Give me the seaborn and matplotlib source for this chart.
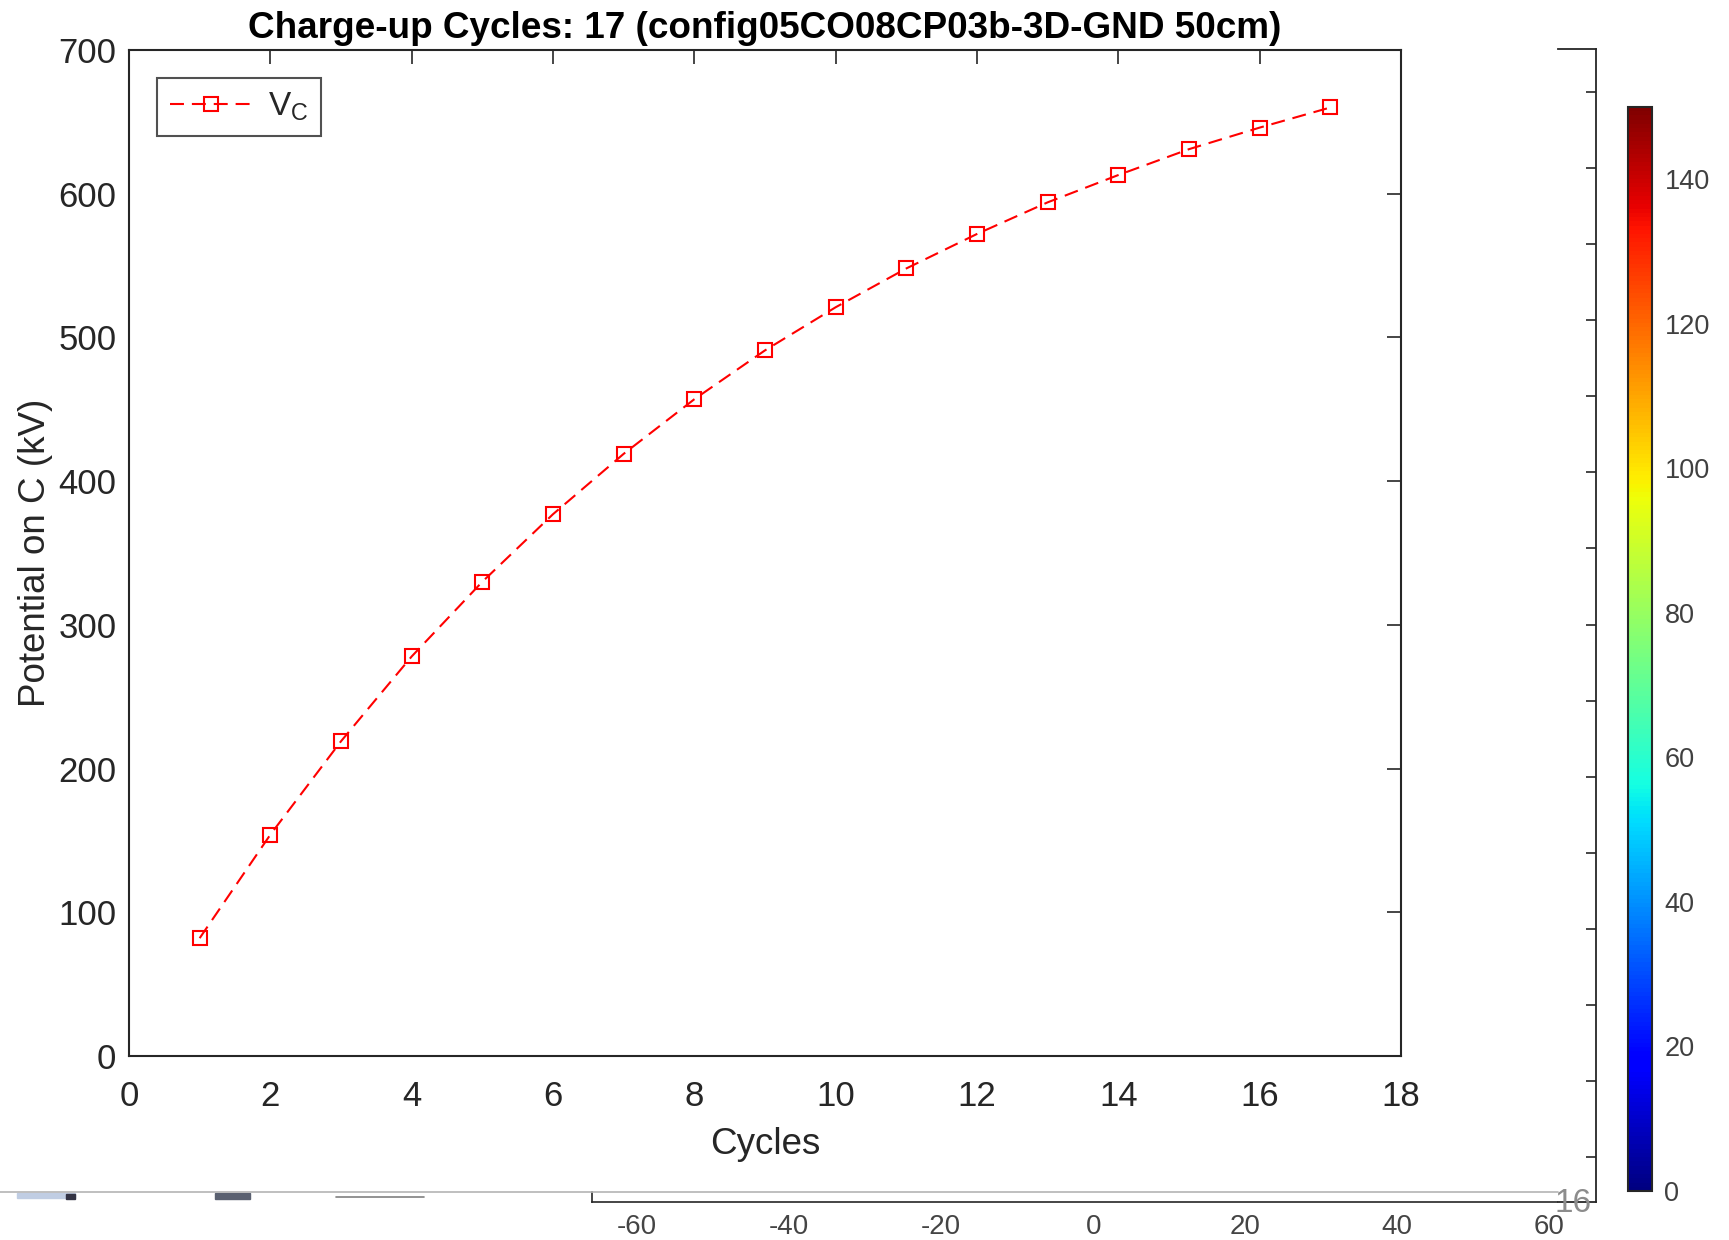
import matplotlib
matplotlib.use("Agg")
import matplotlib as mpl
import matplotlib.pyplot as plt
import seaborn as sns
from matplotlib.lines import Line2D
from matplotlib.patches import Rectangle

# Data
cycles = list(range(1, 18))
vc = [82, 154, 219, 278, 330, 377, 419, 457, 491, 521, 548, 572, 594, 613, 631, 646, 660]
x_ticks = list(range(0, 19, 2))
y_ticks = list(range(0, 701, 100))

# colorbar of a figure lying behind
cbar_range = (0, 150)
cbar_ticks = list(range(0, 141, 20))

# axes of other windows peeking in
bottom_ticks = [-60, -40, -20, 0, 20, 40, 60]
bottom_range = (-66, 61.0)
side_ticks = list(range(15))
side_range = (-0.59, 14.565)

title = "Charge-up Cycles: 17 (config05CO08CP03b-3D-GND 50cm)"

sns.set_theme(style="white")
plt.rcParams['font.family'] = ['Liberation Sans', 'DejaVu Sans']
plt.rcParams['axes.unicode_minus'] = False
dark = '#262626'

W, H = 1729, 1240
fig = plt.figure(figsize=(W / 100, H / 100), dpi=100)
fig.patch.set_facecolor('white')


def box(x0, y0, x1, y1):
    # pixel box (top-left origin) -> figure fraction
    return [x0 / W, 1 - y1 / H, (x1 - x0) / W, (y1 - y0) / H]


# Main plot
ax = fig.add_axes(box(129, 50, 1401, 1056))
sns.lineplot(x=cycles, y=vc, ax=ax, color='red', lw=1.5,
             linestyle=(0, (6.7, 3.8)), marker='s', markersize=10,
             markerfacecolor='none', markeredgecolor='red',
             markeredgewidth=1.5, label=r'$\mathregular{V_C}$')
ax.set_xlim(0, 18)
ax.set_ylim(0, 700)
ax.set_xticks(x_ticks)
ax.set_yticks(y_ticks)
ax.tick_params(direction='in', top=True, right=True, length=10, width=1.2,
               labelsize=25, colors=dark)
ax.tick_params(axis='x', pad=17)
ax.tick_params(axis='y', pad=9)
for s in ax.spines.values():
    s.set_color(dark)
    s.set_linewidth(1.5)
ax.set_xlabel('Cycles', fontsize=26.5, color=dark, labelpad=10)
ax.set_ylabel('Potential on C (kV)', fontsize=26.5, color=dark, labelpad=4)
ax.set_title(title, fontsize=26.6, fontweight='bold', color='black', pad=9)

leg = ax.legend(loc='upper left', bbox_to_anchor=(28 / 1272, 1 - 28 / 1006),
                borderaxespad=0, fontsize=24, frameon=True, fancybox=False,
                handlelength=2.5, borderpad=0.38, handletextpad=0.45)
leg.get_frame().set_edgecolor(dark)
leg.get_frame().set_linewidth(1.5)

# Colorbar (jet, 0-150)
cax = fig.add_axes(box(1628, 107, 1652, 1191))
sm = mpl.cm.ScalarMappable(norm=mpl.colors.Normalize(*cbar_range), cmap='jet')
cb = fig.colorbar(sm, cax=cax, ticks=cbar_ticks)
cb.outline.set_edgecolor(dark)
cb.outline.set_linewidth(1.5)
cax.tick_params(direction='in', left=True, right=True, length=4, width=1.2,
                labelsize=19.5, labelcolor='#404040', color='black', pad=9)

# Side box of another figure
sax = fig.add_axes(box(1558, 49, 1596, 1202))
sax.set_facecolor('none')
sax.set_ylim(*side_range)
sax.set_yticks(side_ticks)
sax.set_xticks([])
sax.yaxis.tick_right()
sax.tick_params(axis='y', direction='in', length=7, width=1.2, color=dark,
                labelright=False)
sax.spines['left'].set_visible(False)
for k in ['top', 'right', 'bottom']:
    sax.spines[k].set_color(dark)
    sax.spines[k].set_linewidth(1.3)

# Bottom axis of another window
bax = fig.add_axes(box(591.5, 1192, 1557, 1202))
bax.set_facecolor('none')
bax.set_xlim(*bottom_range)
bax.set_xticks(bottom_ticks)
bax.set_yticks([])
bax.tick_params(axis='x', direction='in', length=7, width=1.0, color=dark,
                labelsize=20, labelcolor='#444444', pad=9)
for k in ['top', 'right']:
    bax.spines[k].set_visible(False)
for k in ['bottom', 'left']:
    bax.spines[k].set_color(dark)
    bax.spines[k].set_linewidth(1.2)

# window edges / fragments
fig.add_artist(Line2D([0, 1558 / W], [1 - 1192 / H] * 2, color='#b4b4b4', lw=1.2,
                      transform=fig.transFigure))
fig.text(1573 / W, 1 - 1204 / H, '16', color='#8c8c8c', fontsize=24,
         ha='center', va='center', zorder=5)
for (x0, y0, x1, y1, c) in [(17, 1193, 75, 1198, '#c0cde3'),
                            (66, 1194, 75, 1199, '#333344'),
                            (215, 1193, 250, 1199, '#5a6070')]:
    fig.add_artist(Rectangle((x0 / W, 1 - y1 / H), (x1 - x0) / W, (y1 - y0) / H,
                             color=c, transform=fig.transFigure))
fig.add_artist(Line2D([336 / W, 424 / W], [1 - 1197 / H] * 2, color='#808080',
                      lw=1.2, transform=fig.transFigure))

fig.savefig('out.png', dpi=100)
